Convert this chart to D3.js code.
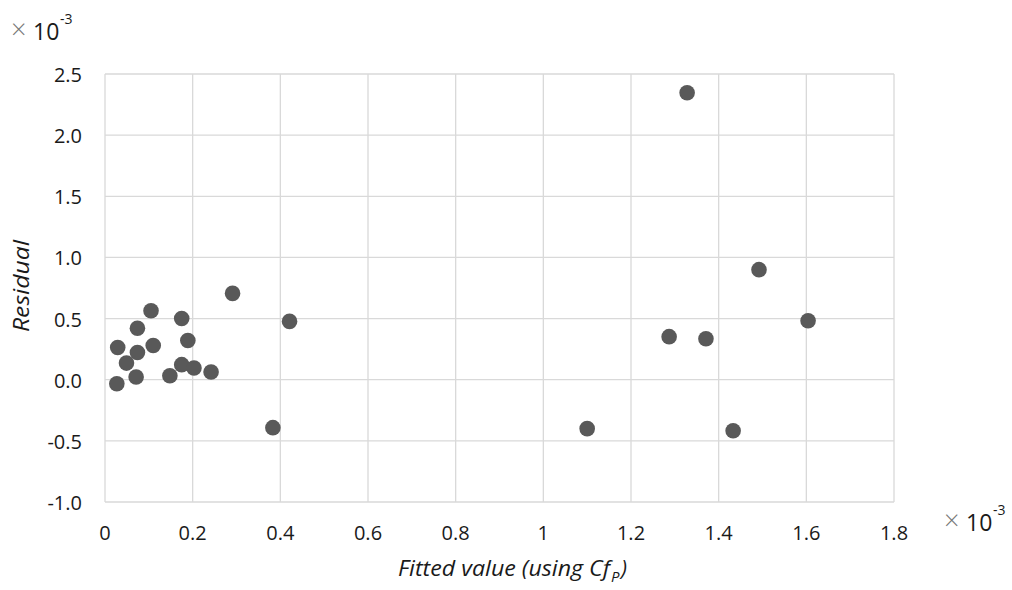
<!DOCTYPE html>
<html><head><meta charset="utf-8">
<script src="https://cdn.jsdelivr.net/npm/d3@7"></script>
<style>body{margin:0;background:#fff;} text{font-family:"Open Sans","Noto Sans",sans-serif;}</style>
</head><body>
<svg id="c" width="1012" height="590"></svg>
<script>
// values in units of 10^-3
const fitted = [0.027,0.029,0.049,0.071,0.074,0.074,0.105,0.110,0.148,0.175,0.175,0.189,0.203,0.242,0.291,0.421,0.383,1.100,1.287,1.328,1.371,1.433,1.492,1.604];
const residual = [-0.033,0.264,0.136,0.022,0.223,0.421,0.564,0.280,0.033,0.501,0.123,0.321,0.096,0.063,0.706,0.477,-0.392,-0.40,0.352,2.347,0.335,-0.417,0.90,0.482];
const xTicks = [0,0.2,0.4,0.6,0.8,1,1.2,1.4,1.6,1.8];
const xTickLabels = ["0","0.2","0.4","0.6","0.8","1","1.2","1.4","1.6","1.8"];
const yTicks = [-1.0,-0.5,0,0.5,1.0,1.5,2.0,2.5];
const yTickLabels = ["-1.0","-0.5","0.0","0.5","1.0","1.5","2.0","2.5"];

const svg = d3.select("#c");
const x = d3.scaleLinear().domain([0,1.8]).range([105,894]);
const y = d3.scaleLinear().domain([-1,2.5]).range([502,74]);
const grid = "#d9d9d9";
const ink = "#1a1a1a";

svg.append("g").selectAll("line").data(xTicks).join("line")
  .attr("x1",d=>x(d)).attr("x2",d=>x(d)).attr("y1",y(2.5)).attr("y2",y(-1))
  .attr("stroke",grid).attr("stroke-width",1.3);
svg.append("g").selectAll("line").data(yTicks).join("line")
  .attr("x1",x(0)).attr("x2",x(1.8)).attr("y1",d=>y(d)).attr("y2",d=>y(d))
  .attr("stroke",grid).attr("stroke-width",1.3);

svg.append("g").selectAll("text").data(xTicks).join("text")
  .attr("x",d=>x(d)).attr("y",540).attr("text-anchor","middle")
  .attr("font-size",20).attr("fill",ink).text((d,i)=>xTickLabels[i]);
svg.append("g").selectAll("text").data(yTicks).join("text")
  .attr("x",82).attr("y",d=>y(d)+8).attr("text-anchor","end")
  .attr("font-size",20).attr("fill",ink).text((d,i)=>yTickLabels[i]);

svg.append("g").selectAll("circle").data(fitted).join("circle")
  .attr("cx",d=>x(d)).attr("cy",(d,i)=>y(residual[i])).attr("r",7.8)
  .attr("fill","#595959");

// multipliers
function mult(xp, yp){
  svg.append("text").attr("x",xp-1).attr("y",yp-1).attr("font-size",27).attr("font-weight",300).attr("fill","#777").text("\u00d7");
  svg.append("text").attr("x",xp+21).attr("y",yp).attr("font-size",23).attr("fill",ink).text("10");
  svg.append("text").attr("x",xp+48).attr("y",yp-16).attr("font-size",14).attr("fill",ink).text("-3");
}
mult(12,40);
mult(945,531);

svg.append("text").attr("transform","translate(29,286) rotate(-90)")
  .attr("text-anchor","middle").attr("font-size",21).attr("font-style","italic")
  .attr("textLength",92).attr("lengthAdjust","spacingAndGlyphs")
  .attr("fill",ink).text("Residual");
svg.append("text").attr("x",398).attr("y",576)
  .attr("font-size",21).attr("font-style","italic").attr("fill",ink)
  .attr("textLength",212).attr("lengthAdjust","spacingAndGlyphs")
  .text("Fitted value (using Cf");
svg.append("text").attr("x",611).attr("y",582)
  .attr("font-size",15).attr("font-style","italic").attr("fill",ink).text("P");
svg.append("text").attr("x",621).attr("y",576)
  .attr("font-size",21).attr("font-style","italic").attr("fill",ink).text(")");
</script>
</body></html>
